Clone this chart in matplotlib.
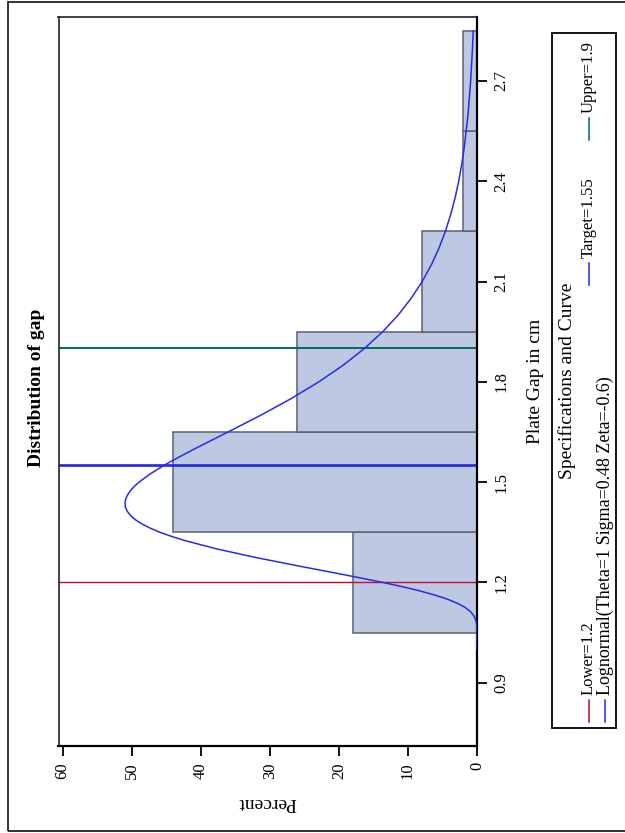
import matplotlib
matplotlib.use("Agg")
import matplotlib.pyplot as plt
from matplotlib.patches import Rectangle
from matplotlib.lines import Line2D

plt.rcParams['font.family'] = ['Liberation Serif', 'DejaVu Serif']

# histogram of plate gap, percent per bin
bin_mid = [1.2, 1.5, 1.8, 2.1, 2.4, 2.7]
bin_pct = [18, 44, 26, 8, 2, 2]
bin_width = 0.3

# fitted lognormal curve (gap, percent)
curve_gap = [1.00, 1.05, 1.075, 1.0875, 1.10, 1.1125, 1.125, 1.1375, 1.15, 1.1625,
             1.175, 1.1875, 1.20, 1.225, 1.25, 1.275, 1.30, 1.325, 1.3375, 1.35,
             1.3625, 1.375, 1.3875, 1.40, 1.4125, 1.425, 1.4375, 1.45, 1.4625, 1.475,
             1.4875, 1.50, 1.525, 1.55, 1.575, 1.60, 1.625, 1.65, 1.70, 1.75,
             1.80, 1.85, 1.90, 1.95, 2.00, 2.05, 2.10, 2.15, 2.20, 2.25,
             2.30, 2.35, 2.40, 2.45, 2.50, 2.60, 2.70, 2.80, 2.85]
curve_pct = [0.0, 0.0, 0.06, 0.19, 0.46, 0.95, 1.72, 2.84, 4.31, 6.17,
             8.36, 10.88, 13.66, 19.73, 26.07, 32.16, 37.65, 42.28, 44.22, 45.92,
             47.35, 48.53, 49.47, 50.16, 50.64, 50.90, 50.97, 50.86, 50.58, 50.16,
             49.61, 48.93, 47.28, 45.33, 43.15, 40.84, 38.45, 36.04, 31.32, 26.90,
             22.90, 19.36, 16.29, 13.65, 11.41, 9.53, 7.94, 6.61, 5.51, 4.58,
             3.82, 3.18, 2.65, 2.22, 1.85, 1.30, 0.92, 0.65, 0.55]

# specification limits
spec_labels = ["Lower=1.2", "Target=1.55", "Upper=1.9"]
spec_vals = [1.2, 1.55, 1.9]
spec_cols = ["#b81030", "#2424e0", "#006a5c"]
spec_lw = [1.0, 1.9, 1.4]
curve_label = "Lognormal(Theta=1 Sigma=0.48 Zeta=-0.6)"
curve_col = "#2a2ae8"

gap_ticks = [0.9, 1.2, 1.5, 1.8, 2.1, 2.4, 2.7]
pct_ticks = [0, 10, 20, 30, 40, 50, 60]

W, H = 625, 833
fx = lambda px: px / W
fy = lambda py: 1 - py / H

fig = plt.figure(figsize=(6.25, 8.33), dpi=100)
ax = fig.add_axes([fx(58.5), fy(745.5), fx(477) - fx(58.5), fy(16.5) - fy(745.5)])

ax.barh(bin_mid, bin_pct, height=bin_width, color="#bdc9e3",
        edgecolor="#5a6170", linewidth=1.1, zorder=1)
for v, c, lw in zip(spec_vals, spec_cols, spec_lw):
    ax.axhline(v, color=c, lw=lw, zorder=2)
ax.plot(curve_pct, curve_gap, color=curve_col, lw=1.1, zorder=3)

ax.set_xlim(60.6, 0)
ax.set_ylim(0.712, 2.893)
ax.yaxis.tick_right()
ax.set_yticks(gap_ticks)
ax.set_yticklabels([f"{t:.1f}" for t in gap_ticks], rotation=90, va="center")
ax.set_xticks(pct_ticks)
ax.set_xticklabels([str(t) for t in pct_ticks], rotation=90)
ax.tick_params(axis="both", direction="out", length=7, width=1.3,
               labelsize=12, pad=5, colors="black")
for s in ax.spines.values():
    s.set_linewidth(1.2)
    s.set_color("#222222")
ax.spines["right"].set_linewidth(1.6)
ax.spines["bottom"].set_linewidth(1.6)
ax.spines["right"].set_color("black")
ax.spines["bottom"].set_color("black")

# titles and axis labels (whole picture is turned on its side)
fig.text(fx(37), fy(388), "Distribution of gap", rotation=90, ha="center",
         va="center", fontsize=14, fontweight="bold")
fig.text(fx(535), fy(381), "Plate Gap in cm", rotation=90, ha="center",
         va="center", fontsize=14)
fig.text(fx(267), fy(803), "Percent", rotation=180, ha="center",
         va="center", fontsize=14)

# outer frame
fig.add_artist(Rectangle((fx(8), fy(831)), 1.02 - fx(8), fy(2) - fy(831),
                         transform=fig.transFigure, fill=False,
                         edgecolor="#222222", lw=1.3))

# legend box drawn by hand
fig.add_artist(Rectangle((fx(552), fy(728)), fx(616) - fx(552), fy(33) - fy(728),
                         transform=fig.transFigure, fill=False,
                         edgecolor="black", lw=1.3))
fig.text(fx(567), fy(381), "Specifications and Curve", rotation=90,
         ha="center", va="center", fontsize=14)

def entry(x, y0, text, col, size=12, swatch=22):
    fig.add_artist(Line2D([fx(x), fx(x)], [fy(y0), fy(y0 - swatch)],
                          transform=fig.transFigure, color=col, lw=1.1))
    fig.text(fx(x), fy(y0 - swatch - 5), text, rotation=90,
             rotation_mode="anchor", ha="left", va="center", fontsize=size)

entry(589, 722, spec_labels[0], spec_cols[0])
entry(589, 285, spec_labels[1], spec_cols[1])
entry(589, 140, spec_labels[2], spec_cols[2])
entry(605, 722, curve_label, curve_col, size=13)

fig.savefig("out.png", dpi=100)
